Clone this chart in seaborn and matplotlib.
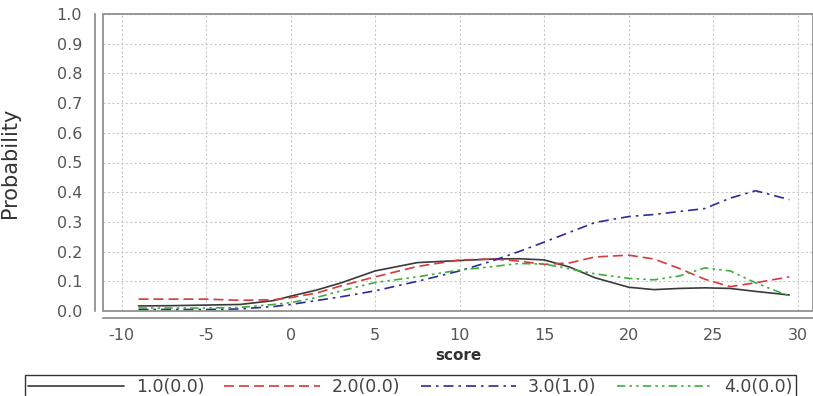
import numpy as np
import pandas as pd
import matplotlib
matplotlib.use("Agg")
import matplotlib.pyplot as plt
from matplotlib.patches import Rectangle
import seaborn as sns

# scores sampled along the curves
score = [-9, -7, -5, -3, -1, 0, 1.5, 3, 5, 7.5, 10, 12, 13.5, 15, 16.5, 18,
         20, 21.5, 23, 24.5, 26, 27.5, 29.5]

prob_1 = [0.017, 0.018, 0.020, 0.022, 0.035, 0.050, 0.070, 0.095, 0.135, 0.163,
          0.170, 0.175, 0.176, 0.172, 0.148, 0.112, 0.080, 0.072, 0.076, 0.078,
          0.076, 0.066, 0.054]
prob_2 = [0.040, 0.040, 0.040, 0.036, 0.038, 0.045, 0.060, 0.085, 0.115, 0.150,
          0.172, 0.175, 0.168, 0.157, 0.162, 0.182, 0.188, 0.175, 0.143, 0.107,
          0.082, 0.095, 0.115]
prob_3 = [0.005, 0.005, 0.005, 0.007, 0.015, 0.022, 0.035, 0.048, 0.068, 0.100,
          0.135, 0.170, 0.200, 0.232, 0.265, 0.298, 0.318, 0.325, 0.335, 0.345,
          0.380, 0.405, 0.375]
prob_4 = [0.010, 0.010, 0.010, 0.012, 0.022, 0.028, 0.045, 0.068, 0.096, 0.115,
          0.138, 0.150, 0.160, 0.158, 0.142, 0.125, 0.110, 0.105, 0.118, 0.145,
          0.135, 0.095, 0.050]

labels = ["1.0(0.0)", "2.0(0.0)", "3.0(1.0)", "4.0(0.0)"]

frames = []
for lab, vals in zip(labels, [prob_1, prob_2, prob_3, prob_4]):
    frames.append(pd.DataFrame({"score": score, "Probability": vals, "cls": lab}))
df = pd.concat(frames, ignore_index=True)

sns.set_style("white")
plt.rcParams["font.family"] = ["DejaVu Sans"]
plt.rcParams["axes.unicode_minus"] = False

palette = {labels[0]: "#3a3a3a", labels[1]: "#d63a3a",
           labels[2]: "#2b2b99", labels[3]: "#3cae3c"}
dashes = {labels[0]: "", labels[1]: (6, 3),
          labels[2]: (6, 3, 1.5, 3), labels[3]: (5, 2.5, 1.5, 2.5, 1.5, 2.5)}

fig = plt.figure(figsize=(8.13, 3.96), dpi=100)
ax = fig.add_axes([103 / 813, 85 / 396, 1 - 103 / 813, 297 / 396])

sns.lineplot(data=df, x="score", y="Probability", hue="cls", style="cls",
             palette=palette, dashes=dashes, linewidth=1.2, ax=ax)

ax.set_xlim(-11.1, 30.9)
ax.set_ylim(0, 1.0)
ax.set_xticks(np.arange(-10, 31, 5))
ax.set_yticks(np.arange(0, 1.01, 0.1))
ax.set_yticklabels([f"{v:.1f}" for v in np.arange(0, 1.01, 0.1)])

ax.grid(True, color="#c8c8c8", linestyle=(0, (2, 2)), linewidth=0.8)

# plot outline + offset axis lines
for s in ["top", "right"]:
    ax.spines[s].set_visible(False)
ax.spines["left"].set_position(("outward", 6))
ax.spines["bottom"].set_position(("outward", 5))
for s in ["left", "bottom"]:
    ax.spines[s].set_color("#888888")
    ax.spines[s].set_linewidth(1.2)
ax.add_patch(Rectangle((0, 0), 1, 1, transform=ax.transAxes, fill=False,
                       edgecolor="#888888", linewidth=1.2, clip_on=False, zorder=5))

ax.tick_params(axis="both", direction="out", length=4, width=1, color="#888888",
               labelsize=11.5, labelcolor="#555555")
ax.tick_params(axis="y", pad=5)

ax.set_xlabel("score", fontsize=11, fontweight="bold", color="#333333", labelpad=3)
ax.set_ylabel("Probability", fontsize=15, color="#333333",
              family=["Liberation Sans Narrow", "DejaVu Sans"])
ax.yaxis.set_label_coords(-0.117, 0.5)

handles, labs = ax.get_legend_handles_labels()
ax.get_legend().remove()
for h in handles:
    h.set_linewidth(1.2)
leg = fig.legend(handles, labs, loc="lower left", ncol=4,
                 bbox_to_anchor=(25 / 813, -0.01, 771 / 813, 26 / 396),
                 mode="expand", fontsize=12.5, frameon=True, fancybox=False,
                 handlelength=5.5, borderpad=0.2, handletextpad=0.7,
                 borderaxespad=0)
leg.get_frame().set_edgecolor("black")
leg.get_frame().set_linewidth(1.0)
for t in leg.get_texts():
    t.set_color("#444444")

fig.savefig("out.png", dpi=100)
